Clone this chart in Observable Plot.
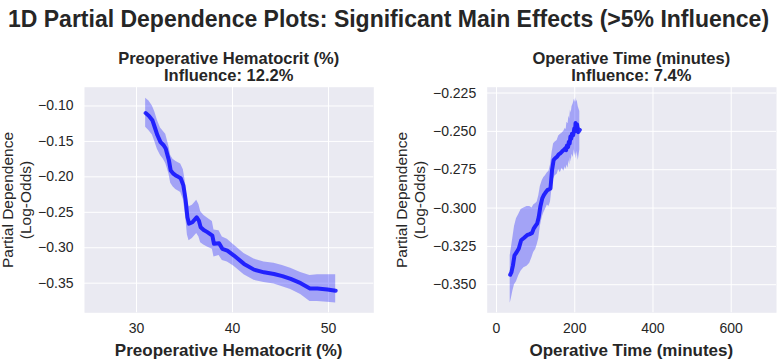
<!DOCTYPE html>
<html>
<head>
<meta charset="utf-8">
<script src="https://cdn.jsdelivr.net/npm/d3@7"></script>
<script src="https://cdn.jsdelivr.net/npm/@observablehq/plot@0.6"></script>
<style>
  body { margin: 0; background: #fff; }
  #fig { position: relative; width: 777px; height: 359px; overflow: hidden;
         font-family: "Liberation Sans", Arial, Helvetica, sans-serif; color: #262626; }
  .t { position: absolute; transform: translate(-50%, -50%); white-space: nowrap;
       text-align: center; line-height: 1; }
  .b { font-weight: bold; }
  .ylab { position: absolute; transform: translate(-50%, -50%) rotate(-90deg);
          white-space: nowrap; text-align: center; font-size: 15.5px; line-height: 17.5px; }
  .panel { position: absolute; top: 80px; }
</style>
</head>
<body>
<div id="fig">
  <div class="t b" style="left:388.5px;top:19px;font-size:23px;">1D Partial Dependence Plots: Significant Main Effects (&gt;5% Influence)</div>

  <div class="t b" style="left:228.7px;top:58px;font-size:16.5px;">Preoperative Hematocrit (%)</div>
  <div class="t b" style="left:228.7px;top:75px;font-size:16.5px;">Influence: 12.2%</div>
  <div class="t b" style="left:631.3px;top:58px;font-size:16.5px;">Operative Time (minutes)</div>
  <div class="t b" style="left:631.3px;top:75px;font-size:16.5px;">Influence: 7.4%</div>

  <div class="ylab" style="left:16px;top:200px;">Partial Dependence<br>(Log-Odds)</div>
  <div class="ylab" style="left:410px;top:200px;">Partial Dependence<br>(Log-Odds)</div>

  <div class="t b" style="left:228.7px;top:349.5px;font-size:17px;">Preoperative Hematocrit (%)</div>
  <div class="t b" style="left:631.3px;top:349.5px;font-size:17px;">Operative Time (minutes)</div>

  <div id="left" class="panel" style="left:0px;"></div>
  <div id="right" class="panel" style="left:390px;"></div>
</div>
<script>
// Preoperative hematocrit (%): partial dependence with bootstrap band
const hctX  = [30.95, 31.3, 31.65, 31.9, 32.17, 32.5, 32.8, 33.04, 33.2, 33.38, 33.56, 33.8, 34.08, 34.35, 34.6, 34.88, 35.0, 35.12, 35.3, 35.47, 35.82, 36.27, 36.5, 36.68, 37.0, 37.38, 37.9, 38.07, 38.6, 38.94, 39.46, 40.15, 41.2, 42.24, 43.28, 44.32, 45.2, 46.06, 47.1, 48.07, 48.84, 49.88, 50.75];
const hctPD = [-0.110, -0.114, -0.120, -0.130, -0.141, -0.151, -0.155, -0.160, -0.168, -0.177, -0.191, -0.195, -0.198, -0.200, -0.202, -0.212, -0.222, -0.233, -0.257, -0.266, -0.264, -0.257, -0.262, -0.271, -0.275, -0.278, -0.283, -0.2945, -0.2936, -0.3016, -0.304, -0.311, -0.3228, -0.3309, -0.3347, -0.337, -0.340, -0.344, -0.350, -0.3574, -0.3574, -0.3588, -0.3606];
const hctLo = [-0.130, -0.135, -0.141, -0.150, -0.161, -0.170, -0.175, -0.181, -0.188, -0.196, -0.209, -0.214, -0.218, -0.220, -0.222, -0.232, -0.244, -0.256, -0.282, -0.290, -0.287, -0.280, -0.285, -0.293, -0.296, -0.299, -0.302, -0.313, -0.311, -0.318, -0.320, -0.326, -0.338, -0.346, -0.349, -0.351, -0.355, -0.359, -0.366, -0.376, -0.376, -0.377, -0.378];
const hctHi = [-0.089, -0.093, -0.100, -0.108, -0.120, -0.131, -0.136, -0.140, -0.148, -0.157, -0.170, -0.175, -0.178, -0.180, -0.182, -0.190, -0.200, -0.211, -0.234, -0.242, -0.240, -0.233, -0.239, -0.249, -0.254, -0.258, -0.263, -0.275, -0.276, -0.285, -0.288, -0.296, -0.308, -0.316, -0.320, -0.322, -0.325, -0.329, -0.335, -0.339, -0.338, -0.338, -0.338];

// Operative time (minutes): partial dependence with bootstrap band
const optX  = [35, 38, 42, 46, 51, 57, 63, 70, 78, 85, 91, 95, 100, 104, 108, 112, 117, 121, 125, 130, 134, 138, 142, 146, 150, 155, 159, 163, 168, 172, 176, 178, 180, 183, 185, 187, 189, 191, 193, 196, 199, 201, 202, 204, 206, 209, 213];
const optPD = [-0.3435, -0.3420, -0.3374, -0.3308, -0.3290, -0.3264, -0.3210, -0.3195, -0.3177, -0.3170, -0.3162, -0.3134, -0.3115, -0.3101, -0.3058, -0.2992, -0.2937, -0.2916, -0.2900, -0.2883, -0.2878, -0.2872, -0.2752, -0.2687, -0.2675, -0.2665, -0.2650, -0.2643, -0.2630, -0.2621, -0.2610, -0.2622, -0.2592, -0.2601, -0.2567, -0.2580, -0.2534, -0.2548, -0.2515, -0.2525, -0.2480, -0.2500, -0.2446, -0.2478, -0.2455, -0.2505, -0.2490];
const optLo = [-0.362, -0.359, -0.354, -0.350, -0.348, -0.344, -0.341, -0.339, -0.338, -0.336, -0.332, -0.329, -0.327, -0.324, -0.320, -0.312, -0.306, -0.303, -0.301, -0.298, -0.299, -0.296, -0.287, -0.281, -0.279, -0.278, -0.275, -0.277, -0.274, -0.276, -0.273, -0.275, -0.272, -0.274, -0.269, -0.272, -0.267, -0.270, -0.265, -0.267, -0.262, -0.266, -0.264, -0.268, -0.263, -0.269, -0.262];
const optHi = [-0.331, -0.326, -0.319, -0.312, -0.307, -0.304, -0.301, -0.300, -0.299, -0.299, -0.300, -0.298, -0.297, -0.296, -0.292, -0.286, -0.282, -0.280, -0.279, -0.277, -0.276, -0.272, -0.264, -0.258, -0.257, -0.256, -0.253, -0.252, -0.251, -0.250, -0.248, -0.249, -0.244, -0.245, -0.240, -0.242, -0.236, -0.238, -0.234, -0.232, -0.229, -0.231, -0.228, -0.231, -0.2295, -0.234, -0.237];

// Axis ticks
const hctXTicks = [30, 40, 50];
const hctYTicks = [-0.10, -0.15, -0.20, -0.25, -0.30, -0.35];
const optXTicks = [0, 200, 400, 600];
const optYTicks = [-0.225, -0.250, -0.275, -0.300, -0.325, -0.350];

function pdPanel({x, pd, lo, hi, xDomain, yDomain, xTicks, yTicks, yFormat, width, marginLeft, marginRight}) {
  const rows = x.map((v, i) => ({x: v, pd: pd[i], lo: lo[i], hi: hi[i]}));
  const grid = {stroke: "#ffffff", strokeOpacity: 1, strokeWidth: 1};
  return Plot.plot({
    width, height: 279,
    marginLeft, marginRight, marginTop: 6.7, marginBottom: 46.7,
    style: {fontFamily: '"Liberation Sans", Arial, sans-serif', fontSize: "14px", color: "#262626", background: "transparent", overflow: "visible"},
    x: {domain: xDomain},
    y: {domain: yDomain},
    marks: [
      Plot.frame({fill: "#eaeaf2", stroke: "none"}),
      Plot.gridX(xTicks, grid),
      Plot.gridY(yTicks, grid),
      Plot.areaY(rows, {x: "x", y1: "lo", y2: "hi", fill: "#0000ff", fillOpacity: 0.3, curve: "linear"}),
      Plot.lineY(rows, {x: "x", y: "pd", stroke: "#0000ff", strokeOpacity: 0.8, strokeWidth: 4}),
      Plot.axisX(xTicks, {tickSize: 0, tickPadding: 10, label: null, tickFormat: d3.format("d"), fontSize: 14}),
      Plot.axisY(yTicks, {tickSize: 0, tickPadding: 11, label: null, tickFormat: yFormat, fontSize: 14})
    ]
  });
}

document.getElementById("left").append(pdPanel({
  x: hctX, pd: hctPD, lo: hctLo, hi: hctHi,
  xDomain: [24.58, 54.72], yDomain: [-0.3918, -0.0735],
  xTicks: hctXTicks, yTicks: hctYTicks, yFormat: d3.format(".2f"),
  width: 390, marginLeft: 84, marginRight: 16.7
}));

document.getElementById("right").append(pdPanel({
  x: optX, pd: optPD, lo: optLo, hi: optHi,
  xDomain: [-23.8, 715.8], yDomain: [-0.3683, -0.2212],
  xTicks: optXTicks, yTicks: optYTicks, yFormat: d3.format(".3f"),
  width: 387, marginLeft: 96.7, marginRight: 1
}));
</script>
</body>
</html>
